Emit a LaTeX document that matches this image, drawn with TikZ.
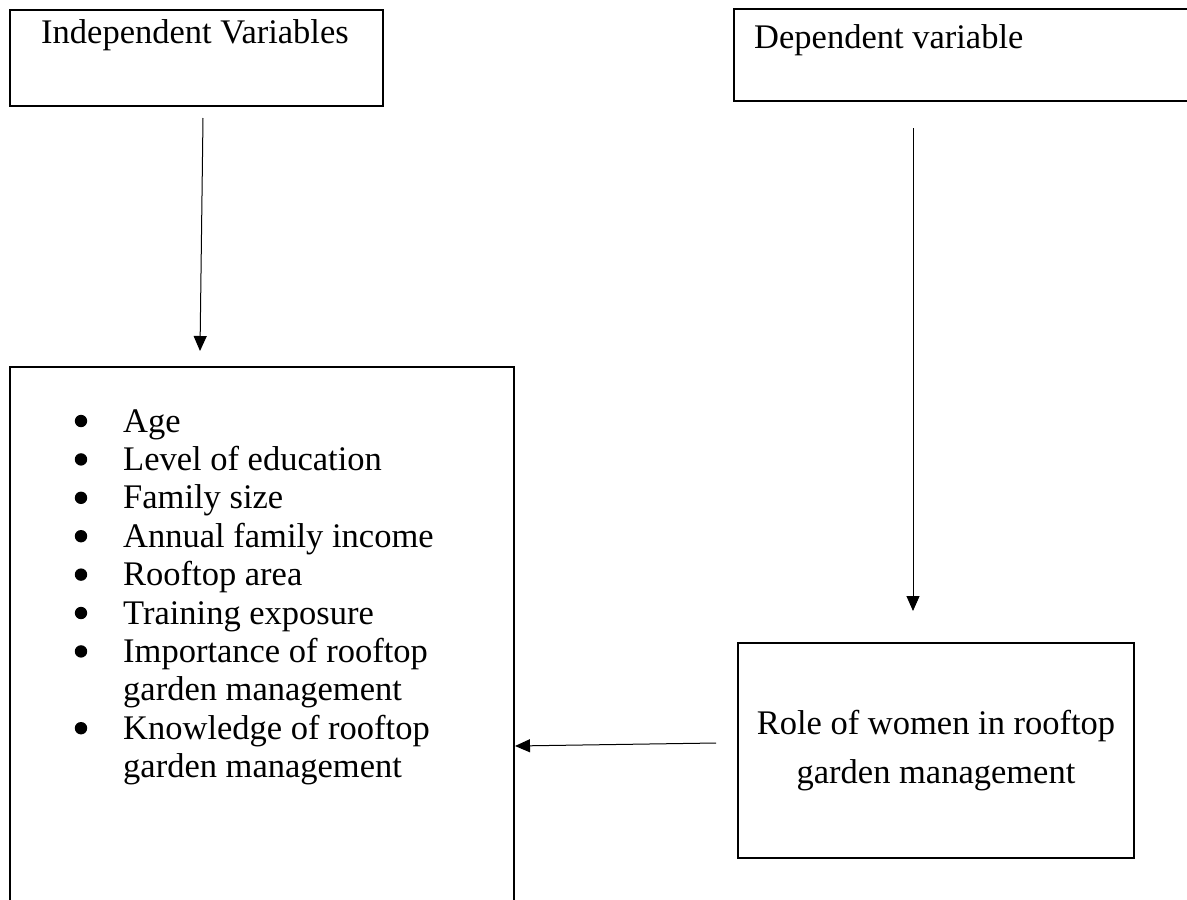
\documentclass[tikz,border=0pt]{standalone}
\usepackage{fontspec}
\setmainfont{Liberation Serif}
\usetikzlibrary{arrows.meta}
\tikzset{
  box/.style={draw=black, line width=2pt, rectangle, inner sep=0pt},
  conn/.style={draw=black, line width=1pt, -{Triangle[length=15pt,width=13pt]}},
  lbl/.style={inner sep=0pt, font=\fontsize{34.5}{49}\selectfont},
  bulletdot/.style={fill=black},
}
\begin{document}
\begin{tikzpicture}[x=1pt,y=-1pt]
\clip (0,0) rectangle (1187,900);
\fill[white] (0,0) rectangle (1187,900);
% boxes
\node[box, minimum width=373pt, minimum height=96pt] (indep) at (196.5,58) {};
\node[box, minimum width=466pt, minimum height=92pt] (dep) at (967,55) {};
\node[box, minimum width=504pt, minimum height=553pt] (list) at (262,643.5) {};
\node[box, minimum width=396pt, minimum height=215pt, align=center, lbl] (role) at (936,750.5)
  {Role of women in rooftop\\garden management};
% texts
\node[lbl, anchor=base] (indeptxt) at (195,43) {Independent Variables};
\node[lbl, anchor=base west] (deptxt) at (754,48) {Dependent variable};
\node[lbl, anchor=base west, font=\fontsize{34.5}{38.4}\selectfont] (items) at (123,432)
 {\begin{tabular}[t]{@{}l@{}}
  Age\\
  Level of education\\
  Family size\\
  Annual family income\\
  Rooftop area\\
  Training exposure\\
  Importance of rooftop\\
  garden management\\
  Knowledge of rooftop\\
  garden management
 \end{tabular}};
% bullets
\foreach \k in {0,1,2,3,4,5,6,8}
  \fill[bulletdot] (81,{421+38.4*\k}) circle (6.2pt);
% connector ends
\coordinate (a1s) at (203,118);
\coordinate (a1e) at (200,351);
\coordinate (a2s) at (913,128);
\coordinate (a2e) at (913,611);
\coordinate (a3s) at (716,743);
\coordinate (a3e) at (515,746);
\draw[conn] (a1s) -- (a1e);
\draw[conn] (a2s) -- (a2e);
\draw[conn] (a3s) -- (a3e);
\end{tikzpicture}
\end{document}
